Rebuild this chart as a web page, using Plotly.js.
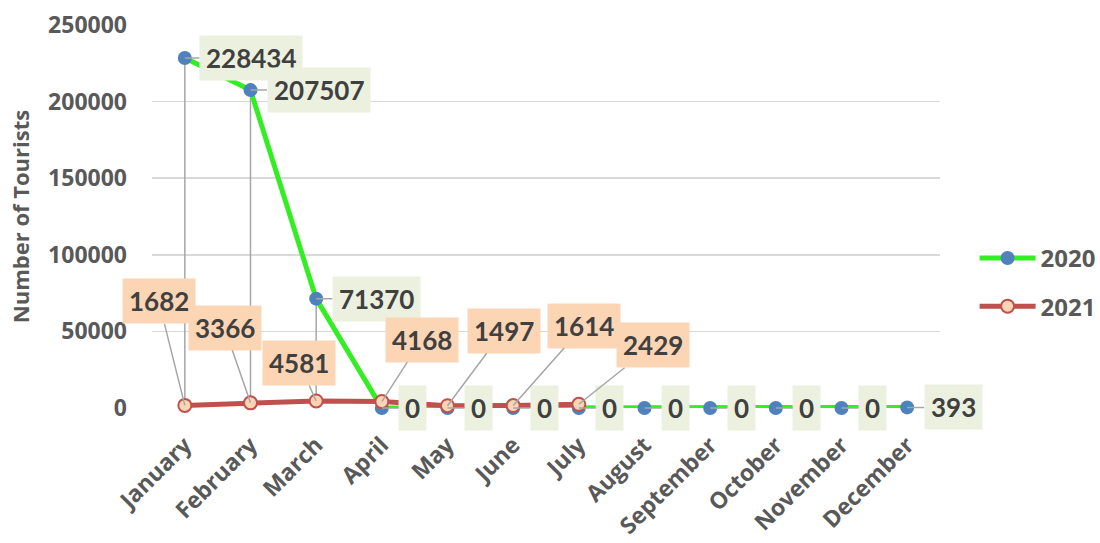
<!DOCTYPE html>
<html>
<head>
<meta charset="utf-8">
<script src="https://cdn.plot.ly/plotly-3.0.1.min.js"></script>
<style>
  html, body { margin: 0; padding: 0; background: #ffffff; }
  #chart { width: 1100px; height: 543px; }
</style>
</head>
<body>
<div id="chart"></div>
<script>
// ---- data ----
const months = ["January", "February", "March", "April", "May", "June",
                "July", "August", "September", "October", "November", "December"];
const tourists2020 = [228434, 207507, 71370, 0, 0, 0, 0, 0, 0, 0, 0, 393];
const months2021 = ["January", "February", "March", "April", "May", "June", "July"];
const tourists2021 = [1682, 3366, 4581, 4168, 1497, 1614, 2429];
const yTicks = [0, 50000, 100000, 150000, 200000, 250000];

// ---- label placement (pixel offsets from each point to its label) ----
const labelShift2020 = [[66, 0], [68, 0], [60, 0], [31, 0], [31, 0], [31, 0],
                        [31, 0], [31, 0], [31, 0], [31, 0], [31, 0], [46, 0]];
const labelShift2021 = [[-26, -104], [-26, -75], [-17, -38], [40, -62],
                        [56, -75], [71, -80], [74, -59]];

// drop lines: from 0 up to the highest value of each month
const dropX = [], dropY = [];
months.forEach((m, i) => {
  const v21 = i < tourists2021.length ? tourists2021[i] : 0;
  const top = Math.max(tourists2020[i], v21);
  dropX.push(m, m, null);
  dropY.push(0, top, null);
});

const labelFont = { family: "Lato", size: 26, color: "#404040", weight: 700 };
const annotations = [];
months.forEach((m, i) => {
  annotations.push({
    x: m, y: tourists2020[i], xref: "x", yref: "y",
    text: "<b>" + tourists2020[i] + "</b>",
    showarrow: true, arrowhead: 0, arrowwidth: 1.5, arrowcolor: "#A6A6A6",
    standoff: 0, ax: labelShift2020[i][0], ay: labelShift2020[i][1],
    bgcolor: "#EBF1DE", borderpad: 6, font: labelFont
  });
});
months2021.forEach((m, i) => {
  annotations.push({
    x: m, y: tourists2021[i], xref: "x", yref: "y",
    text: "<b>" + tourists2021[i] + "</b>",
    showarrow: true, arrowhead: 0, arrowwidth: 1.5, arrowcolor: "#A6A6A6",
    standoff: 0, ax: labelShift2021[i][0], ay: labelShift2021[i][1],
    bgcolor: "#FCD5B5", borderpad: 6, font: labelFont
  });
});

const traces = [
  {
    x: dropX, y: dropY, mode: "lines", type: "scatter",
    line: { color: "#A6A6A6", width: 1.5 },
    showlegend: false, hoverinfo: "skip", connectgaps: false
  },
  {
    x: months, y: tourists2020, name: "2020", type: "scatter", mode: "lines+markers",
    line: { color: "#33EE22", width: 5 },
    marker: { color: "#4F81BD", size: 14 },
    legendgroup: "a", cliponaxis: false
  },
  {
    x: months2021, y: tourists2021, name: "2021", type: "scatter", mode: "lines+markers",
    line: { color: "#C0504D", width: 5 },
    marker: { color: "#FCD5B5", size: 13, line: { color: "#C0504D", width: 2 } },
    legendgroup: "b", cliponaxis: false
  }
];

const tickFont = { family: "Open Sans", size: 23, color: "#595959", weight: 700 };

const layout = {
  width: 1100, height: 543,
  margin: { l: 152, r: 160, t: 25, b: 135 },
  paper_bgcolor: "#ffffff", plot_bgcolor: "#ffffff",
  showlegend: true,
  legend: {
    x: 0.886, xref: "container", y: 0.48, yref: "container", yanchor: "middle", xanchor: "left",
    font: { family: "Open Sans", size: 24, color: "#595959", weight: 700 },
    itemwidth: 56,
    traceorder: "grouped", tracegroupgap: 14, bgcolor: "rgba(0,0,0,0)"
  },
  xaxis: {
    type: "category", categoryarray: months, categoryorder: "array",
    range: [-0.5, 11.5], tickangle: -45, tickfont: tickFont,
    showgrid: false, zeroline: false, showline: false, ticks: "",
    ticklabelstandoff: 18, fixedrange: true
  },
  yaxis: {
    range: [0, 250000], tickvals: yTicks, ticktext: yTicks.map(String),
    tickfont: tickFont, showgrid: true, gridcolor: "#D9D9D9", gridwidth: 1.5,
    zeroline: false, showline: false, ticks: "", ticklabelstandoff: 24,
    title: { text: "Number of Tourists", font: { family: "Open Sans", size: 22, color: "#595959", weight: 700 }, standoff: 12 },
    automargin: false, fixedrange: true
  },
  annotations: annotations
};

Plotly.newPlot("chart", traces, layout, { displayModeBar: false, staticPlot: true });
</script>
</body>
</html>
